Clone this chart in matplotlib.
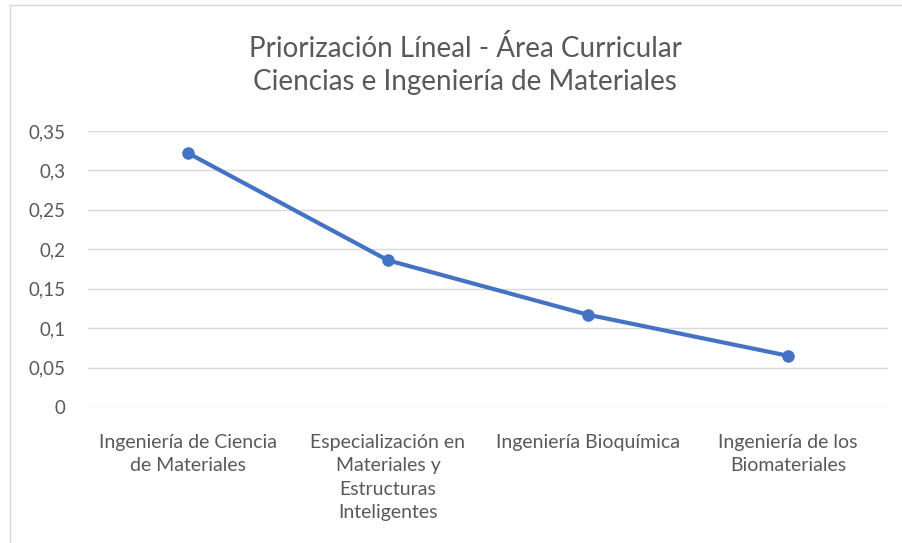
import matplotlib.pyplot as plt
from matplotlib.patches import Rectangle

categorias = ['Ingeniería de Ciencia\nde Materiales',
              'Especialización en\nMateriales y\nEstructuras\nInteligentes',
              'Ingeniería Bioquímica',
              'Ingeniería de los\nBiomateriales']
valores = [0.322, 0.186, 0.117, 0.065]
yticks = [0, 0.05, 0.1, 0.15, 0.2, 0.25, 0.3, 0.35]
ytick_labels = ['0', '0,05', '0,1', '0,15', '0,2', '0,25', '0,3', '0,35']

plt.rcParams['font.family'] = ['Lato', 'DejaVu Sans']
gris = '#595959'

fig = plt.figure(figsize=(9.02, 5.43), dpi=100)
# borde del área del gráfico
fig.patches.append(Rectangle((10 / 902, -0.1), 1.2, 1 - 5 / 543 + 0.1,
                             transform=fig.transFigure, fill=False,
                             edgecolor='#D9D9D9', linewidth=1))

ax = fig.add_axes([88 / 902, 1 - 407 / 543, 800 / 902, 276 / 543])
x = range(len(categorias))
ax.plot(x, valores, '-o', color='#4472C4', linewidth=3, markersize=8)

ax.set_xlim(-0.5, len(categorias) - 0.5)
ax.set_ylim(0, 0.35)
ax.set_yticks(yticks)
ax.set_yticklabels(ytick_labels, fontsize=13.5)
ax.set_xticks(list(x))
ax.set_xticklabels(categorias, linespacing=1.45, va='top', ha='center', fontsize=14)
ax.tick_params(axis='both', length=0, labelcolor=gris)
ax.tick_params(axis='y', pad=16)
ax.tick_params(axis='x', pad=19.5)
ax.grid(axis='y', color='#D9D9D9', linewidth=1)
ax.set_axisbelow(True)
for s in ax.spines.values():
    s.set_visible(False)

fig.text(465 / 902, 1 - 65 / 543, 'Priorización Líneal - Área Curricular\nCiencias e Ingeniería de Materiales',
         ha='center', va='center', fontsize=20, color=gris, linespacing=1.3)

fig.savefig('out.png', dpi=100)
